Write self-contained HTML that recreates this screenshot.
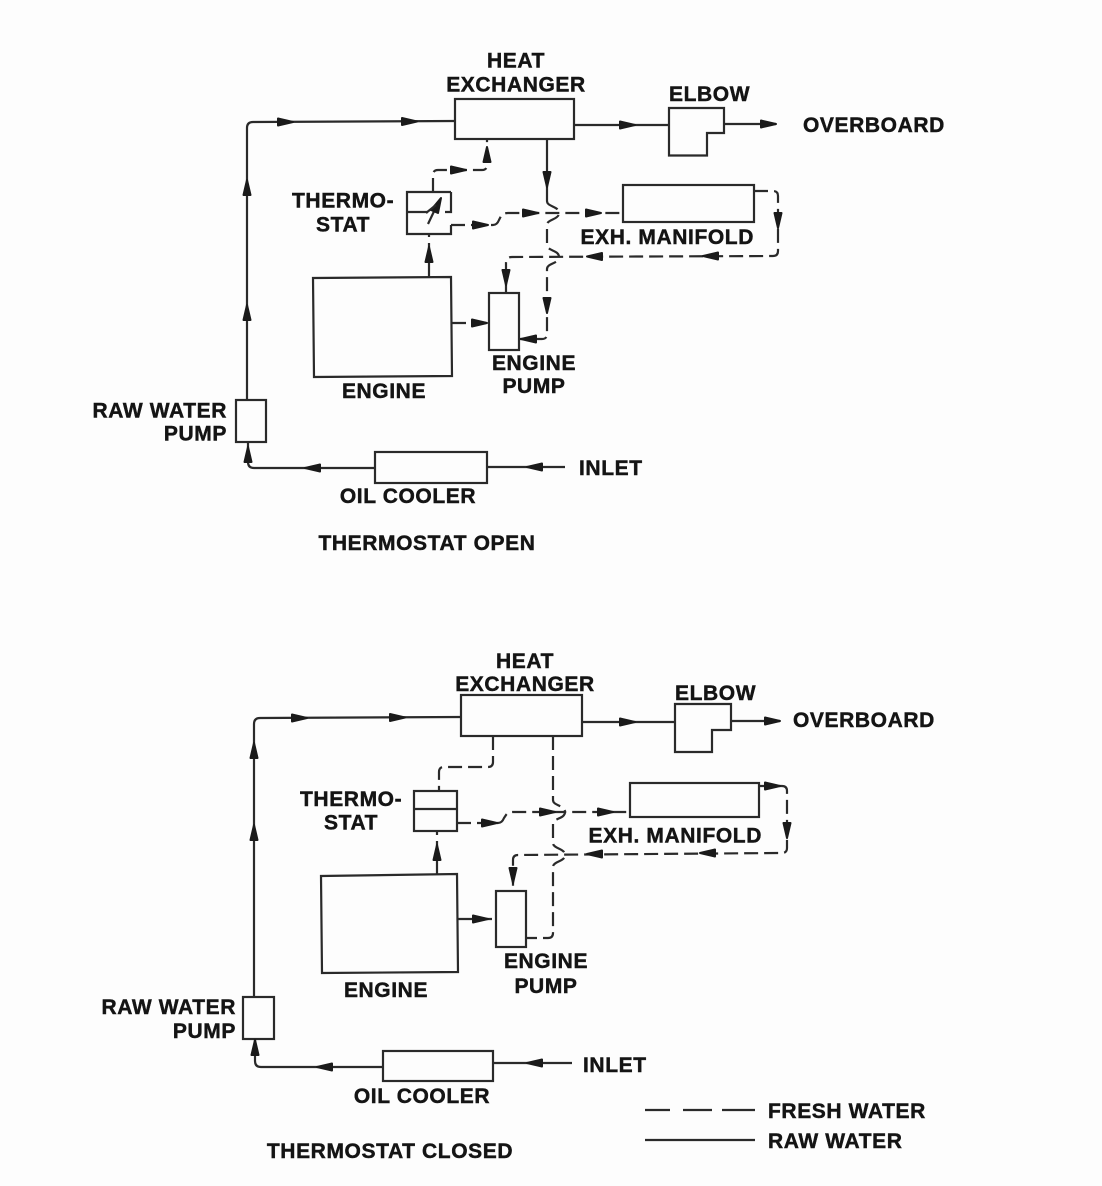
<!DOCTYPE html>
<html>
<head>
<meta charset="utf-8">
<style>
  html,body{margin:0;padding:0;background:#fdfdfd;}
  svg{display:block;}
  text{font-family:"Liberation Sans",Arial,sans-serif;font-weight:bold;font-size:21px;letter-spacing:0.6px;fill:#141414;stroke:#141414;stroke-width:0.45px;}
  .s{fill:none;stroke:#2a2a2a;stroke-width:2.2;}
  .d{fill:none;stroke:#2a2a2a;stroke-width:2.2;stroke-dasharray:14 6;}
  .a{fill:#1a1a1a;stroke:#1a1a1a;stroke-width:2;stroke-linejoin:round;}
</style>
</head>
<body>
<svg width="1102" height="1186" viewBox="0 0 1102 1186" xmlns="http://www.w3.org/2000/svg">
<rect x="0" y="0" width="1102" height="1186" fill="#fdfdfd"/>

<!-- ================= TOP DIAGRAM (THERMOSTAT OPEN) ================= -->
<path class="s" d="M247,400 L247,128 Q247,122 253,122 L455,121"/>
<rect class="s" x="236" y="400" width="30" height="42"/>
<path class="s" d="M248,442 L248,462 Q248,468 254,468 L375,468"/>
<rect class="s" x="375" y="452" width="112" height="31"/>
<path class="s" d="M487,467 L565,467"/>
<rect class="s" x="455" y="99" width="119" height="40"/>
<path class="s" d="M574,125 L669,125"/>
<path class="s" d="M669,108 L724,108 L724,133 L707,133 L707,155.5 L669,155.5 Z"/>
<path class="s" d="M724,124 L776,124"/>
<rect class="s" x="623" y="185" width="131" height="37"/>
<path class="s" d="M313,278 L451,277 L452,376 L314,377 Z"/>
<rect class="s" x="489" y="293" width="30" height="57"/>

<!-- thermostat (open) -->
<path class="s" d="M451,192 L407,192 L407,234 L451,234 L451,225"/>
<path class="s" d="M451,192 L451,212 L445,212"/>
<path class="s" d="M407,212 L418,212 L428,212"/>
<path class="s" d="M428,224 L438,203"/>
<polygon class="a" points="441,198 431,210 438,213"/>
<path class="s" d="M426,213 L436,205" />

<!-- fresh water (dashed) -->
<path class="d" d="M433,192 L433,175 Q433,170 438,170 L482,170 Q487,170 487,165 L487,139"/>
<path class="s" d="M547,139 L547,201"/>
<path class="d" d="M547,201 C547,207 559,206 559,213 C559,220 547,219 547,225 L547,245 C547,251 559,250 559,257 C559,264 547,263 547,269 L547,334 Q547,339 542,339 L519,339"/>
<path class="d" d="M451,225 L493,225 Q497,225 499,220 L501,216 Q503,213 508,213 L623,213"/>
<path class="d" d="M754,191 L773,191 Q778,191 778,196 L778,251 Q778,256 773,256 L512,257 Q506,257 506,263 L506,293"/>
<path class="d" d="M429,277 L429,234"/>
<path class="d" d="M452,323 L489,323"/>

<!-- arrows top -->
<polygon class="a" points="293,122 278,118.5 278,125.5"/>
<polygon class="a" points="417,121.5 402,118 402,125"/>
<polygon class="a" points="247,180 243.5,195 250.5,195"/>
<polygon class="a" points="247,305 243.5,320 250.5,320"/>
<polygon class="a" points="248,447 244.5,462 251.5,462"/>
<polygon class="a" points="305,468 320,464.5 320,471.5"/>
<polygon class="a" points="527,467 542,463.5 542,470.5"/>
<polygon class="a" points="635,125 620,121.5 620,128.5"/>
<polygon class="a" points="776,124 761,120.5 761,127.5"/>
<polygon class="a" points="466,170 451,166.5 451,173.5"/>
<polygon class="a" points="487,147 483.5,162 490.5,162"/>
<polygon class="a" points="547,187 543.5,172 550.5,172"/>
<polygon class="a" points="488,225 473,221.5 473,228.5"/>
<polygon class="a" points="538,213 523,209.5 523,216.5"/>
<polygon class="a" points="601,213 586,209.5 586,216.5"/>
<polygon class="a" points="778,228 774.5,213 781.5,213"/>
<polygon class="a" points="703,256 718,252.5 718,259.5"/>
<polygon class="a" points="587,256.5 602,253 602,260"/>
<polygon class="a" points="506,285 502.5,270 509.5,270"/>
<polygon class="a" points="547,313 543.5,298 550.5,298"/>
<polygon class="a" points="521,339 536,335.5 536,342.5"/>
<polygon class="a" points="429,247 425.5,262 432.5,262"/>
<polygon class="a" points="487,323 472,319.5 472,326.5"/>

<!-- labels top -->
<text x="516" y="67.5" text-anchor="middle">HEAT</text>
<text x="516" y="91.5" text-anchor="middle">EXCHANGER</text>
<text x="669" y="101">ELBOW</text>
<text x="803" y="132">OVERBOARD</text>
<text x="292" y="207.5">THERMO-</text>
<text x="316" y="231.5">STAT</text>
<text x="754" y="244" text-anchor="end">EXH. MANIFOLD</text>
<text x="384" y="398" text-anchor="middle">ENGINE</text>
<text x="534" y="370" text-anchor="middle">ENGINE</text>
<text x="534" y="393" text-anchor="middle">PUMP</text>
<text x="227" y="417.5" text-anchor="end">RAW WATER</text>
<text x="227" y="440.5" text-anchor="end">PUMP</text>
<text x="408" y="503" text-anchor="middle">OIL COOLER</text>
<text x="579" y="475">INLET</text>
<text x="427" y="550" text-anchor="middle">THERMOSTAT OPEN</text>

<!-- ================= BOTTOM DIAGRAM (THERMOSTAT CLOSED) ================= -->
<path class="s" d="M254,997 L254,724 Q254,718 260,718 L461,717"/>
<rect class="s" x="243" y="997" width="31" height="42"/>
<path class="s" d="M255,1039 L255,1061 Q255,1067 261,1067 L383,1067"/>
<rect class="s" x="383" y="1051" width="110" height="30"/>
<path class="s" d="M493,1063 L572,1063"/>
<rect class="s" x="461" y="695" width="121" height="41"/>
<path class="s" d="M582,722 L675,722"/>
<path class="s" d="M675,704 L731,704 L731,730 L712,730 L712,752 L675,752 Z"/>
<path class="s" d="M731,721 L780,721"/>
<rect class="s" x="630" y="783" width="129" height="34"/>
<path class="s" d="M321,876 L457,874 L458,972 L322,973 Z"/>
<rect class="s" x="496" y="891" width="30" height="56"/>

<!-- thermostat closed -->
<rect class="s" x="414" y="791" width="43" height="40"/>
<path class="s" d="M414,809 L457,809"/>

<!-- fresh water dashed -->
<path class="d" d="M493,736 L493,762 Q493,767 488,767 L444,767 Q439,767 439,772 L439,791"/>
<path class="d" d="M553,736 L553,800 C553,806 565,805 565,812 C565,819 553,818 553,824 L553,843 C553,849 565,848 565,855 C565,862 553,861 553,867 L553,933 Q553,938 548,938 L526,938"/>
<path class="d" d="M457,823 L498,823 Q502,823 504,818 L506,815 Q508,812 513,812 L630,812"/>
<path class="d" d="M759,786 L782,786 Q787,786 787,791 L787,848 Q787,853 782,853 L518,855 Q513,855 513,860 L513,891"/>
<path class="d" d="M437,875 L437,831"/>
<path class="d" d="M458,919 L496,919"/>

<!-- arrows bottom -->
<polygon class="a" points="307,718 292,714.5 292,721.5"/>
<polygon class="a" points="405,717.5 390,714 390,721"/>
<polygon class="a" points="254,743 250.5,758 257.5,758"/>
<polygon class="a" points="254,825 250.5,840 257.5,840"/>
<polygon class="a" points="255,1040 251.5,1055 258.5,1055"/>
<polygon class="a" points="317,1067 332,1063.5 332,1070.5"/>
<polygon class="a" points="527,1063 542,1059.5 542,1066.5"/>
<polygon class="a" points="635,722 620,718.5 620,725.5"/>
<polygon class="a" points="780,721 765,717.5 765,724.5"/>
<polygon class="a" points="497,823 482,819.5 482,826.5"/>
<polygon class="a" points="555,812 540,808.5 540,815.5"/>
<polygon class="a" points="613,812 598,808.5 598,815.5"/>
<polygon class="a" points="780,786 765,782.5 765,789.5"/>
<polygon class="a" points="787,838 783.5,823 790.5,823"/>
<polygon class="a" points="700,853 715,849.5 715,856.5"/>
<polygon class="a" points="587,854 602,850.5 602,857.5"/>
<polygon class="a" points="513,883 509.5,868 516.5,868"/>
<polygon class="a" points="437,845 433.5,860 440.5,860"/>
<polygon class="a" points="488,919 473,915.5 473,922.5"/>

<!-- labels bottom -->
<text x="525" y="668" text-anchor="middle">HEAT</text>
<text x="525" y="691" text-anchor="middle">EXCHANGER</text>
<text x="675" y="700">ELBOW</text>
<text x="793" y="727">OVERBOARD</text>
<text x="300" y="806">THERMO-</text>
<text x="324" y="829.5">STAT</text>
<text x="762" y="842.5" text-anchor="end">EXH. MANIFOLD</text>
<text x="386" y="997" text-anchor="middle">ENGINE</text>
<text x="546" y="968" text-anchor="middle">ENGINE</text>
<text x="546" y="993" text-anchor="middle">PUMP</text>
<text x="236" y="1014" text-anchor="end">RAW WATER</text>
<text x="236" y="1038" text-anchor="end">PUMP</text>
<text x="422" y="1103" text-anchor="middle">OIL COOLER</text>
<text x="583" y="1072">INLET</text>
<text x="390" y="1158" text-anchor="middle">THERMOSTAT CLOSED</text>

<!-- legend -->
<path class="s" d="M645,1110 L670,1110 M683,1110 L712,1110 M722,1110 L755,1110"/>
<path class="s" d="M645,1140 L755,1140"/>
<text x="768" y="1118">FRESH WATER</text>
<text x="768" y="1148">RAW WATER</text>
</svg>
</body>
</html>
